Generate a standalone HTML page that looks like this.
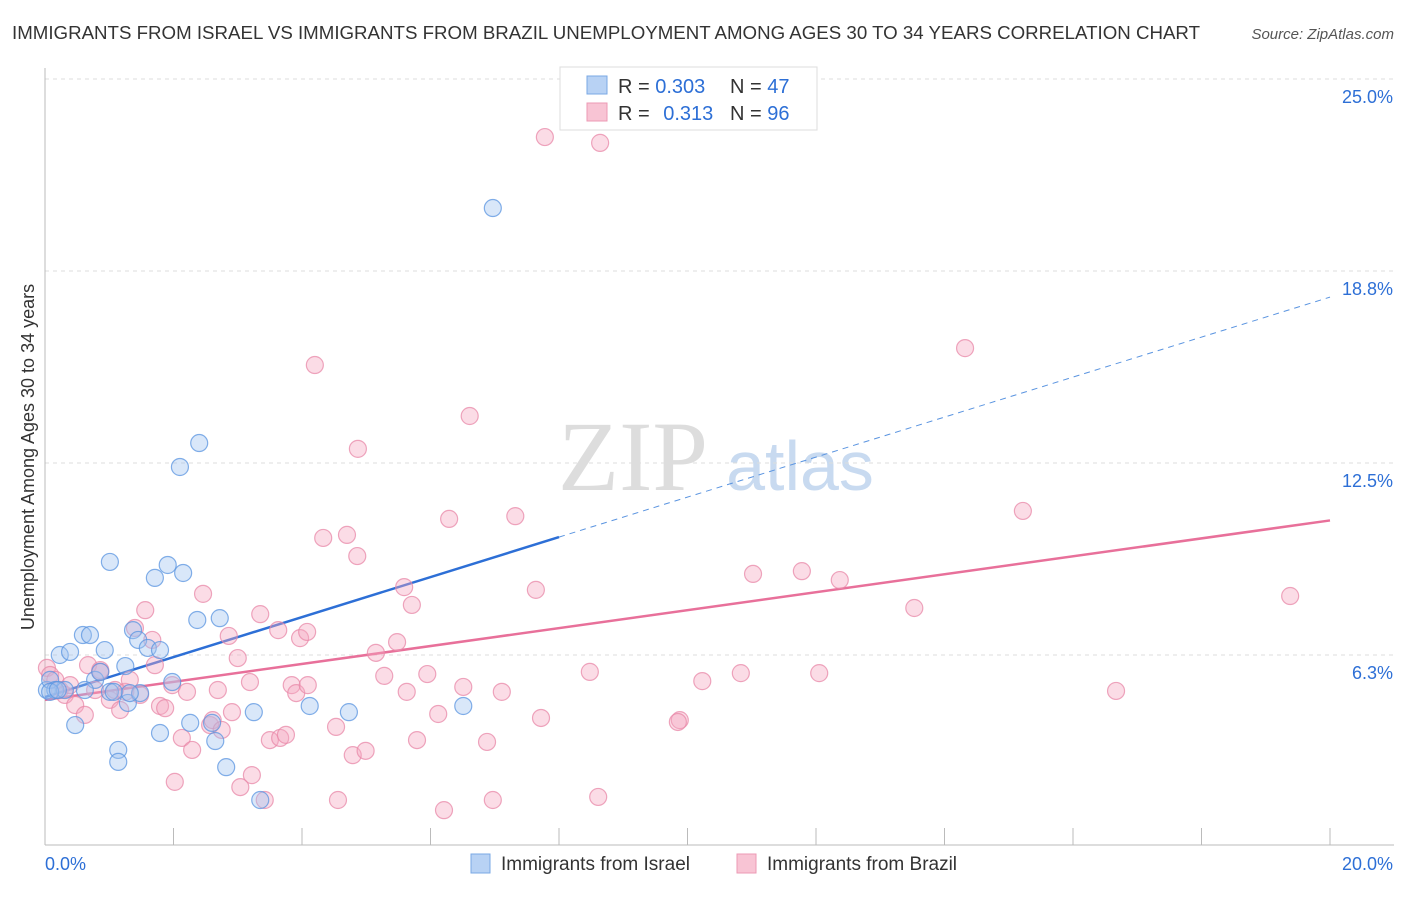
<!DOCTYPE html>
<html><head><meta charset="utf-8"><style>
body{margin:0;background:#fff;font-family:"Liberation Sans",sans-serif}
</style></head><body>
<svg id="chart" width="1406" height="892" xmlns="http://www.w3.org/2000/svg">
<text x="12" y="39" font-size="18" fill="#333" textLength="1188" lengthAdjust="spacingAndGlyphs">IMMIGRANTS FROM ISRAEL VS IMMIGRANTS FROM BRAZIL UNEMPLOYMENT AMONG AGES 30 TO 34 YEARS CORRELATION CHART</text>
<text x="1394" y="39" font-size="15" fill="#555" font-style="italic" text-anchor="end">Source: ZipAtlas.com</text>
<g>
<text x="633" y="490" font-size="100" font-family="Liberation Serif,serif" fill="#ddd" text-anchor="middle">ZIP</text>
<text x="800" y="490" font-size="70" fill="#c8daf0" text-anchor="middle">atlas</text>
</g>
<g id="grid"></g><g id="axes"></g><g id="lines"></g><g id="pts"></g>
<text transform="translate(34,457) rotate(-90)" font-size="18" fill="#333" text-anchor="middle">Unemployment Among Ages 30 to 34 years</text>
<g>
<rect x="560" y="67" width="257" height="63" fill="#fff" stroke="#ddd"/>
<rect x="587" y="76" width="20" height="18" fill="#b8d2f4" stroke="#7aa8e4"/>
<rect x="587" y="103" width="20" height="18" fill="#f8c4d4" stroke="#ec9ab4"/>
<text x="618" y="93" font-size="20" fill="#333">R = <tspan fill="#2d6fd6">0.303</tspan><tspan x="730">N = </tspan><tspan fill="#2d6fd6">47</tspan></text>
<text x="618" y="120" font-size="20" fill="#333">R = <tspan fill="#2d6fd6" dx="8">0.313</tspan><tspan x="730">N = </tspan><tspan fill="#2d6fd6">96</tspan></text>
</g>
<g>
<rect x="471" y="854" width="19" height="19" fill="#b8d2f4" stroke="#7aa8e4"/>
<text x="501" y="870" font-size="19" fill="#333">Immigrants from Israel</text>
<rect x="737" y="854" width="19" height="19" fill="#f8c4d4" stroke="#ec9ab4"/>
<text x="767" y="870" font-size="19" fill="#333">Immigrants from Brazil</text>
</g>
</svg>
<script>
const israelX=[0.03,0.08,0.16,0.23,0.31,0.39,0.47,0.59,0.70,0.78,0.86,0.93,1.01,1.14,1.14,1.25,1.29,1.01,1.37,1.48,1.45,1.60,1.71,1.79,1.91,1.98,2.10,2.15,2.37,2.40,1.79,2.26,2.60,2.65,2.72,2.82,3.25,3.35,4.12,4.73,6.51,6.97,0.08,0.20,0.62,1.32,1.07];
const israelY=[5.11,5.44,5.11,6.25,5.11,6.35,3.97,6.90,6.90,5.44,5.70,6.41,5.05,3.16,2.77,5.89,4.69,9.28,7.06,5.01,6.74,6.48,8.76,6.41,9.18,5.37,12.37,8.92,7.39,13.15,3.71,4.04,4.04,3.45,7.45,2.60,4.39,1.53,4.59,4.39,4.59,20.80,5.05,5.11,5.11,5.01,5.05];
const brazilX=[0.03,0.08,0.16,0.23,0.31,0.39,0.47,0.62,0.67,0.78,0.86,1.01,1.09,1.17,1.25,1.32,1.40,1.48,1.56,1.67,1.71,1.79,1.87,1.98,2.02,2.13,2.21,2.29,2.46,2.57,2.61,2.69,2.75,2.86,2.91,3.00,3.19,3.22,3.04,3.35,3.42,3.50,3.63,3.66,3.75,3.84,3.91,3.97,4.08,4.09,4.20,4.33,4.53,4.56,4.70,4.79,4.86,4.87,4.99,5.15,5.28,5.48,5.59,5.63,5.71,5.79,5.95,6.12,6.21,6.29,6.51,6.61,6.88,6.97,7.11,7.32,7.64,7.72,7.78,8.48,8.61,8.64,9.88,9.85,10.23,10.83,11.02,11.78,12.05,12.37,13.53,14.32,15.22,16.67,19.38,0.86];
const brazilY=[5.83,5.60,5.44,5.11,4.95,5.27,4.62,4.30,5.92,5.11,5.76,4.79,5.11,4.46,5.05,5.44,7.13,4.95,7.71,6.74,5.92,4.59,4.52,5.27,2.12,3.55,5.05,3.16,8.24,3.97,4.13,5.11,3.81,6.87,4.39,6.15,5.37,2.34,1.95,7.58,1.53,3.48,7.06,3.55,3.65,5.27,5.01,6.80,7.00,5.27,15.69,10.06,3.91,1.53,10.16,2.99,9.47,12.96,3.13,6.32,5.57,6.67,8.46,5.05,7.88,3.48,5.63,4.33,1.20,10.68,5.21,14.03,3.42,1.53,5.05,10.77,8.37,4.20,23.11,5.70,1.63,22.92,4.13,4.07,5.40,5.66,8.89,8.98,5.66,8.69,7.78,16.24,10.94,5.08,8.17,5.70];
const yTicks=[6.3,12.5,18.8,25.0];
const xTickLabels=["0.0%","20.0%"];
const israelTrend=[4.88,0.651]; // intercept, slope
const brazilTrend=[4.79,0.292];
const NS="http://www.w3.org/2000/svg";
const X=v=>45+v*64.25, Y=v=>847-v*30.72;
function mk(p,t,a){const e=document.createElementNS(NS,t);for(const k in a)e.setAttribute(k,a[k]);document.getElementById(p).appendChild(e);return e;}
yTicks.forEach(t=>{
 const gy=Y(t===6.3?6.25:t===18.8?18.75:t);
 const l=mk('grid','line',{x1:45,x2:1394,y1:gy,y2:gy,stroke:'#ddd','stroke-dasharray':'4,4'});
 
 
 const tx=mk('grid','text',{x:1393,y:gy+24,'font-size':18,fill:'#2d6fd6','text-anchor':'end'});
 tx.textContent=t.toFixed(1)+'%';
 
 
});
const ax=mk('axes','line',{x1:45,x2:1394,y1:845,y2:845,stroke:'#bbb'});


const ay=mk('axes','line',{x1:45,x2:45,y1:68,y2:845,stroke:'#bbb'});


for(let i=0;i<=20;i+=2){const t=mk('axes','line',{x1:X(i),x2:X(i),y1:828,y2:845,stroke:'#bbb'});
 
 }
[[0,'start',45],[20,'end',1393]].forEach((d,i)=>{const t=mk('axes','text',{x:d[2],y:870,'font-size':18,fill:'#2d6fd6','text-anchor':d[1]});t.textContent=xTickLabels[i];
 
 });
function pts(xs,ys,fill,stroke,name){xs.forEach((x,i)=>{const c=mk('pts','circle',{cx:X(x),cy:Y(ys[i]),r:8.5,fill:fill,'fill-opacity':0.4,stroke:stroke,'stroke-opacity':0.75,'stroke-width':1.2});
 
 });}
pts(brazilX,brazilY,'#f4a8c0','#e888a8','brazil-point');
pts(israelX,israelY,'#a0c4f0','#5a94e0','israel-point');
const bl=mk('lines','line',{x1:X(0),y1:Y(brazilTrend[0]),x2:X(20),y2:Y(brazilTrend[0]+20*brazilTrend[1]),stroke:'#e8709a','stroke-width':2.5});


const il=mk('lines','line',{x1:X(0),y1:Y(israelTrend[0]),x2:X(8),y2:Y(israelTrend[0]+8*israelTrend[1]),stroke:'#2d6fd6','stroke-width':2.5});


const id=mk('lines','line',{x1:X(8),y1:Y(israelTrend[0]+8*israelTrend[1]),x2:X(20),y2:Y(israelTrend[0]+20*israelTrend[1]),stroke:'#5a94e0','stroke-width':1,'stroke-dasharray':'6,5'});


</script>
</body></html>
